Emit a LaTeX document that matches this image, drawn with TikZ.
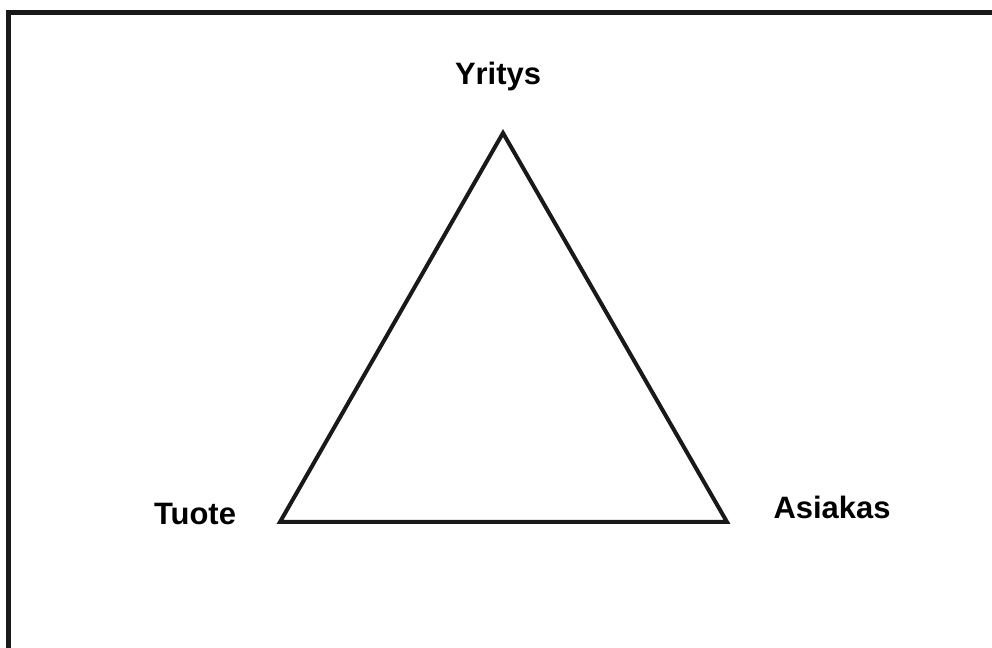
\documentclass[tikz,border=0pt]{standalone}
\usepackage{fontspec}
\setmainfont{Liberation Sans}
\usepackage{tikz}
\usetikzlibrary{positioning}

\begin{document}
\begin{tikzpicture}[
    side/.style={draw=black!90, line width=2.85pt},
    frame/.style={draw=black!90, line width=3.6pt},
    vlab/.style={font=\fontsize{22}{26}\selectfont\bfseries, anchor=base, inner sep=0pt},
]
\useasboundingbox (0,0) rectangle (24.8,16.2);

% Frame (only top and left edges show)
\draw[frame] (0.2125,0) -- (0.2125,15.8875) -- (24.8,15.8875);

% Corners of the triangle
\coordinate (top) at (12.575,12.875);
\coordinate (left) at (7.0,3.15);
\coordinate (right) at (18.175,3.15);

\draw[side] (top) -- (right) -- (left) -- cycle;

% Labels
\node[vlab] (yritys) at (12.45,14.075) {Yritys};
\node[vlab] (tuote) at (4.875,3.075) {Tuote};
\node[vlab] (asiakas) at (20.8,3.225) {Asiakas};
\end{tikzpicture}
\end{document}
